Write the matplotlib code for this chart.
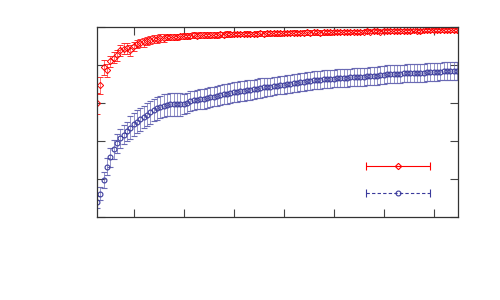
import numpy as np
import matplotlib
matplotlib.use("Agg")
import matplotlib.pyplot as plt

# sample index (x) shared by both series
x = np.arange(4, 113)

# red series (upper curve) and its error
red = [0.598, 0.693, 0.788, 0.772, 0.819, 0.838, 0.851, 0.877, 0.885, 0.888,
       0.877, 0.898, 0.909, 0.914, 0.919, 0.925, 0.930, 0.935, 0.938, 0.941,
       0.943, 0.945, 0.947, 0.949, 0.948, 0.950, 0.952, 0.954, 0.955, 0.956,
       0.955, 0.957, 0.958, 0.956, 0.959, 0.960, 0.958, 0.961, 0.960, 0.962,
       0.961, 0.963, 0.962, 0.964, 0.963, 0.965, 0.964, 0.963, 0.965, 0.966,
       0.965, 0.967, 0.966, 0.968, 0.967, 0.966, 0.968, 0.969, 0.968, 0.970,
       0.969, 0.968, 0.970, 0.971, 0.970, 0.972, 0.971, 0.970, 0.972, 0.973,
       0.972, 0.974, 0.973, 0.972, 0.974, 0.975, 0.974, 0.976, 0.975, 0.974,
       0.976, 0.977, 0.976, 0.978, 0.977, 0.976, 0.978, 0.979, 0.978, 0.980,
       0.979, 0.978, 0.980, 0.981, 0.980, 0.982, 0.981, 0.980, 0.982, 0.983,
       0.982, 0.984, 0.983, 0.982, 0.984, 0.985, 0.984, 0.986, 0.986]
red_err = ([0.055, 0.045, 0.040, 0.035] + [0.030] * 7 + [0.022] * 10
           + [0.015] * 20 + [0.012] * 30 + [0.010] * 38)

# blue series (lower curve) and its error
blue = [0.077, 0.120, 0.193, 0.262, 0.314, 0.356, 0.388, 0.412, 0.433, 0.451,
        0.468, 0.486, 0.501, 0.514, 0.525, 0.538, 0.551, 0.562, 0.572, 0.578,
        0.584, 0.589, 0.592, 0.593, 0.592, 0.592, 0.593, 0.598, 0.609, 0.613,
        0.617, 0.619, 0.622, 0.625, 0.630, 0.633, 0.636, 0.643, 0.646, 0.648,
        0.651, 0.656, 0.659, 0.662, 0.664, 0.667, 0.668, 0.671, 0.675, 0.679,
        0.681, 0.683, 0.685, 0.688, 0.691, 0.693, 0.696, 0.698, 0.701, 0.704,
        0.706, 0.709, 0.712, 0.714, 0.717, 0.719, 0.721, 0.722, 0.725, 0.726,
        0.727, 0.728, 0.730, 0.731, 0.732, 0.733, 0.734, 0.735, 0.736, 0.737,
        0.738, 0.739, 0.741, 0.742, 0.743, 0.746, 0.748, 0.750, 0.751, 0.752,
        0.753, 0.754, 0.755, 0.756, 0.757, 0.757, 0.758, 0.758, 0.759, 0.761,
        0.762, 0.763, 0.764, 0.765, 0.766, 0.767, 0.767, 0.768, 0.768]
blue_err = ([0.030, 0.035, 0.040, 0.045] + [0.050] * 6 + [0.060] * 16
            + [0.052] * 25 + [0.047] * 58)

RED = "#ff0000"
BLUE = "#3a3a9c"

fig = plt.figure(figsize=(5, 3), dpi=100)
ax = fig.add_axes([0.194, 0.278, 0.722, 0.632])

ax.errorbar(x, blue, yerr=blue_err, fmt="o", color=BLUE, ecolor="#6a6ab4",
            mfc="none", ms=3.5, mew=0.8, elinewidth=0.5, capsize=2.5, capthick=0.6)
ax.errorbar(x, red, yerr=red_err, fmt="D", color=RED, ecolor="#ff3030",
            mfc="none", ms=3.2, mew=0.7, elinewidth=0.5, capsize=2.5, capthick=0.6)

# key samples, gnuplot style (no labels)
ax.errorbar([0.834], [0.267], xerr=[0.0886], fmt="D", color=RED, mfc="none",
            ms=3.2, mew=0.8, elinewidth=0.8, capsize=3, capthick=0.8,
            transform=ax.transAxes, clip_on=False)
key_b = ax.errorbar([0.834], [0.125], xerr=[0.0886], fmt="o", color=BLUE, mfc="none",
                    ms=3.5, mew=0.8, elinewidth=0.8, capsize=3, capthick=0.8,
                    transform=ax.transAxes, clip_on=False)
key_b[2][0].set_linestyle((0, (3, 2)))

ax.set_xlim(4, 112.3)
ax.set_ylim(0, 1)
ax.set_xticks(np.arange(15, 111, 15))
ax.set_yticks(np.arange(0, 1.01, 0.2))
ax.tick_params(direction="in", length=6, width=0.8, color="#444444",
               top=True, right=True, labelbottom=False, labelleft=False)
for s in ax.spines.values():
    s.set_color("#333333")
    s.set_linewidth(0.9)

fig.savefig("out.png", dpi=100)
